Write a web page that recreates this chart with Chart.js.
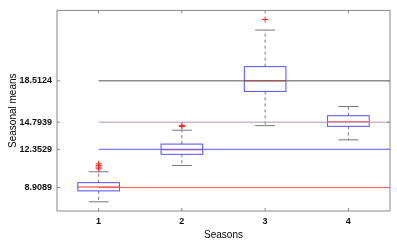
<!DOCTYPE html>
<html>
<head>
<meta charset="utf-8">
<script src="https://cdn.jsdelivr.net/npm/chart.js@4/dist/chart.umd.min.js"></script>
<style>
  html, body { margin: 0; padding: 0; background: #fff; }
  canvas { display: block; }
</style>
</head>
<body>
<canvas id="seasonChart" width="397" height="243"></canvas>
<script>
// Dữ liệu
const seasons = [1, 2, 3, 4];
const q1 = [8.61, 11.90, 17.56, 14.42];
const medians = [8.96, 12.31, 18.51, 14.83];
const q3 = [9.35, 12.82, 19.79, 15.37];
const whiskerLow = [7.63, 10.89, 14.48, 13.20];
const whiskerHigh = [10.33, 14.07, 23.08, 16.20];
const outliers = [[10.6, 10.75, 10.9, 11.05], [14.4, 14.5], [24.03], []];
const meanLevels = [8.9089, 12.3529, 14.7939, 18.5124];
const meanLabels = ['8.9089', '12.3529', '14.7939', '18.5124'];
const meanColors = ['#ff5a5a', '#5a5aff', '#b496b4', '#555555'];

// Đường trung bình mùa: từ mùa 1 đến mép phải
const lineSets = meanLevels.map((m, i) => ({
    type: 'line',
    data: [{ x: 1, y: m }, { x: 4.5, y: m }],
    borderColor: meanColors[i],
    borderWidth: 1,
    pointRadius: 0,
    order: 2
}));

// Điểm ngoại lai
const outlierPoints = [];
outliers.forEach((arr, i) => arr.forEach(v => outlierPoints.push({ x: seasons[i], y: v })));

// Plugin vẽ hộp (boxplot)
const boxPlugin = {
    id: 'boxPlugin',
    beforeDatasetsDraw(chart) {
        const { ctx, scales: { x, y } } = chart;
        ctx.save();
        seasons.forEach((s, i) => {
            const cx = x.getPixelForValue(s);
            const bl = x.getPixelForValue(s - 0.25);
            const br = x.getPixelForValue(s + 0.25);
            const cl = x.getPixelForValue(s - 0.12);
            const cr = x.getPixelForValue(s + 0.12);
            const yq1 = y.getPixelForValue(q1[i]);
            const yq3 = y.getPixelForValue(q3[i]);
            const ymed = y.getPixelForValue(medians[i]);
            const ylo = y.getPixelForValue(whiskerLow[i]);
            const yhi = y.getPixelForValue(whiskerHigh[i]);

            // râu (nét đứt)
            ctx.strokeStyle = '#777';
            ctx.lineWidth = 1;
            ctx.setLineDash([3, 3]);
            ctx.beginPath();
            ctx.moveTo(cx, yq3); ctx.lineTo(cx, yhi);
            ctx.moveTo(cx, yq1); ctx.lineTo(cx, ylo);
            ctx.stroke();
            ctx.setLineDash([]);

            // đầu râu
            ctx.beginPath();
            ctx.moveTo(cl, yhi); ctx.lineTo(cr, yhi);
            ctx.moveTo(cl, ylo); ctx.lineTo(cr, ylo);
            ctx.stroke();

            // hộp
            ctx.strokeStyle = '#5050ff';
            ctx.strokeRect(bl, yq3, br - bl, yq1 - yq3);

            // trung vị
            ctx.strokeStyle = '#ff3030';
            ctx.beginPath();
            ctx.moveTo(bl, ymed); ctx.lineTo(br, ymed);
            ctx.stroke();
        });
        ctx.restore();
    },
    afterDraw(chart) {
        const { ctx, chartArea: a, scales: { x, y } } = chart;
        ctx.save();
        ctx.strokeStyle = '#888';
        ctx.lineWidth = 1;
        ctx.strokeRect(a.left, a.top, a.right - a.left, a.bottom - a.top);
        ctx.beginPath();
        seasons.forEach(s => {
            const px = x.getPixelForValue(s);
            ctx.moveTo(px, a.bottom); ctx.lineTo(px, a.bottom - 3);
            ctx.moveTo(px, a.top); ctx.lineTo(px, a.top + 3);
        });
        meanLevels.forEach(m => {
            const py = y.getPixelForValue(m);
            ctx.moveTo(a.left, py); ctx.lineTo(a.left + 3, py);
            ctx.moveTo(a.right, py); ctx.lineTo(a.right - 3, py);
        });
        ctx.stroke();
        ctx.restore();
    }
};

const font = { family: '"Liberation Sans", Arial, sans-serif', size: 9, weight: 'bold' };
const titleFont = { family: '"Liberation Sans", Arial, sans-serif', size: 10 };

new Chart(document.getElementById('seasonChart'), {
    type: 'scatter',
    data: {
        datasets: [
            ...lineSets,
            {
                type: 'scatter',
                data: outlierPoints,
                pointStyle: 'cross',
                pointRadius: 3,
                borderColor: '#ff2020',
                borderWidth: 1,
                order: 1
            }
        ]
    },
    options: {
        responsive: false,
        animation: false,
        layout: { padding: { top: 8, right: 7, left: 0, bottom: 0 } },
        plugins: { legend: { display: false }, tooltip: { enabled: false } },
        scales: {
            x: {
                type: 'linear',
                min: 0.5,
                max: 4.5,
                afterBuildTicks: scale => { scale.ticks = seasons.map(v => ({ value: v })); },
                afterFit: scale => { scale.height = 32; },
                grid: { display: false, drawTicks: false },
                border: { display: false },
                ticks: { font, color: '#111', padding: 5 },
                title: {
                    display: true,
                    text: 'Seasons',
                    font: titleFont,
                    color: '#000',
                    padding: { top: 0, bottom: 2 }
                }
            },
            y: {
                type: 'linear',
                min: 6.8,
                max: 24.85,
                afterBuildTicks: scale => { scale.ticks = meanLevels.map(v => ({ value: v })); },
                afterFit: scale => { scale.width = 57; },
                grid: { display: false, drawTicks: false },
                border: { display: false },
                ticks: {
                    font,
                    color: '#111',
                    padding: 5,
                    callback: (v, i) => meanLabels[i]
                },
                title: {
                    display: true,
                    text: 'Seasonal means',
                    font: titleFont,
                    color: '#000',
                    padding: { top: 7, bottom: 0 }
                }
            }
        }
    },
    plugins: [boxPlugin]
});
</script>
</body>
</html>
